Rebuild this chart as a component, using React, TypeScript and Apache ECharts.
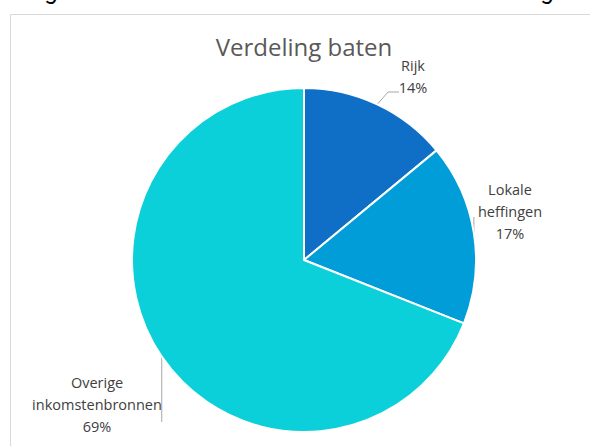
import React, { useEffect, useRef } from "react";
import * as echarts from "echarts";

const chartTitle = "Verdeling baten";
const categories = ["Rijk", "Lokale heffingen", "Overige inkomstenbronnen"];
const values = [14, 17, 69];
const colors = ["#0F6FC6", "#009DD9", "#0BD0D9"];
const labelAnchors = [
  [413, 76],
  [510, 211],
  [97, 404],
];

export default function App() {
  const ref = useRef<HTMLDivElement>(null);
  useEffect(() => {
    const chart = echarts.init(ref.current!, undefined, { renderer: "svg" });
    chart.setOption({
      animation: false,
      backgroundColor: "#ffffff",
      graphic: [
        {
          type: "rect",
          shape: { x: 10.5, y: 14.5, width: 700, height: 600 },
          style: { fill: "none", stroke: "#D9D9D9", lineWidth: 1 },
          silent: true,
          z: -1,
        },
        {
          type: "text",
          x: 304,
          y: 46,
          style: {
            text: chartTitle,
            fontSize: 24,
            fontFamily: "Open Sans",
            fill: "#595959",
            textAlign: "center",
            textVerticalAlign: "middle",
          },
        },
        {
          type: "text",
          x: 51,
          y: -9,
          style: {
            text: "g",
            fontSize: 24,
            fontFamily: "Roboto",
            fill: "#000",
            textAlign: "center",
            textVerticalAlign: "middle",
          },
        },
        {
          type: "text",
          x: 547,
          y: -9,
          style: {
            text: "g",
            fontSize: 24,
            fontFamily: "Roboto",
            fill: "#000",
            textAlign: "center",
            textVerticalAlign: "middle",
          },
        },
      ],
      series: [
        {
          type: "pie",
          center: [304, 260],
          radius: 172,
          startAngle: 90,
          clockwise: true,
          avoidLabelOverlap: false,
          emphasis: { disabled: true },
          itemStyle: { borderColor: "#ffffff", borderWidth: 2 },
          data: categories.map((c, i) => ({
            name: c,
            value: values[i],
            itemStyle: { color: colors[i] },
          })),
          label: {
            show: true,
            position: "outside",
            formatter: (p: any) => `${p.name.replace(" ", "\n")}\n${p.percent}%`,
            fontFamily: "Open Sans",
            fontSize: 14.5,
            lineHeight: 22,
            color: "#404040",
            align: "center",
          },
          labelLine: {
            show: true,
            lineStyle: { color: "#A6A6A6", width: 1 },
          },
          labelLayout: (params: any) => {
            const i = params.dataIndex;
            const p0 = params.labelLinePoints ? params.labelLinePoints[0] : [0, 0];
            let pts: number[][];
            if (i === 0) pts = [p0, [388, 92], [399, 92]];
            else if (i === 1) pts = [p0, [p0[0], 217], [p0[0], 217]];
            else pts = [p0, [p0[0], 422], [p0[0], 422]];
            return {
              x: labelAnchors[i][0],
              y: labelAnchors[i][1],
              align: "center",
              verticalAlign: "middle",
              labelLinePoints: pts,
            };
          },
        },
      ],
    });
    return () => chart.dispose();
  }, []);
  return (
    <div
      ref={ref}
      style={{ position: "fixed", left: 0, top: 0, width: 590, height: 446 }}
    />
  );
}
